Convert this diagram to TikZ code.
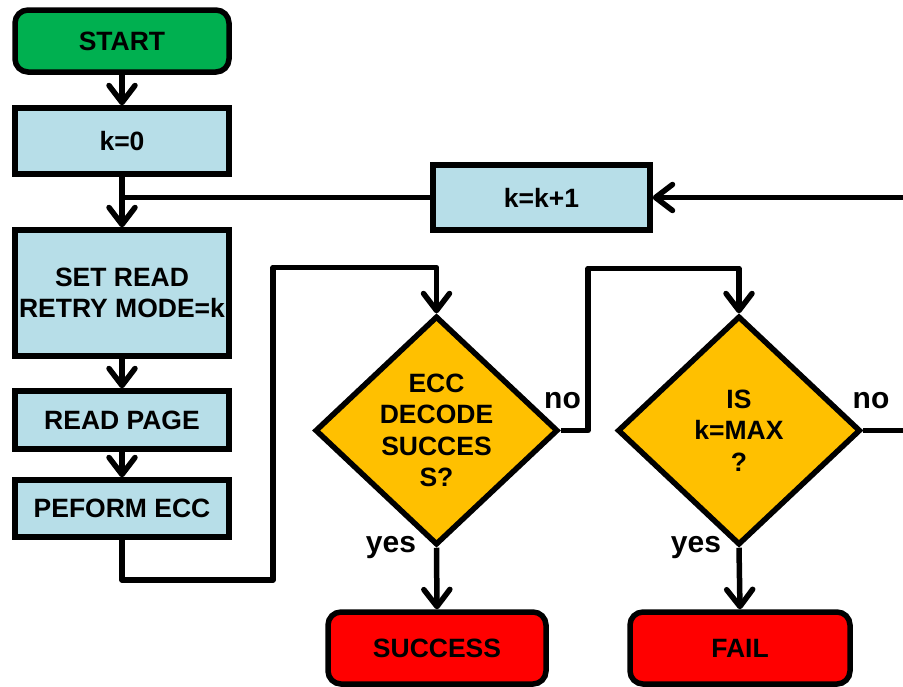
\documentclass[tikz,border=0pt]{standalone}
\usepackage{fontspec}
\setmainfont{Liberation Sans}
\usetikzlibrary{shapes.geometric,arrows.meta}
\definecolor{startgreen}{HTML}{00B050}
\definecolor{stepblue}{HTML}{B7DEE8}
\definecolor{askorange}{HTML}{FFC000}
\definecolor{endred}{HTML}{FF0000}
\tikzset{
  box/.style={draw, line width=5.5pt, fill=stepblue, minimum width=214pt, inner sep=0pt,
    font=\fontsize{26.5}{31.5}\selectfont\bfseries, align=center},
  term/.style={box, rounded corners=13pt},
  ask/.style={diamond, draw, line width=5.5pt, fill=askorange, inner sep=0pt,
    minimum width=243pt, minimum height=229pt, line join=miter,
    font=\fontsize{26.5}{31.5}\selectfont\bfseries, align=center},
  lbl/.style={font=\fontsize{30}{36}\selectfont\bfseries, inner sep=0pt},
  flow/.style={line width=5.5pt, line join=round},
  arr/.style={flow, -{Straight Barb[length=17pt, width=26pt, round]}}
}
\begin{document}
\begin{tikzpicture}[x=1pt, y=-1pt]
  \useasboundingbox (0,0) rectangle (903,686);
  % left column
  \node[term, fill=startgreen, minimum height=62pt] (start) at (122,41) {START};
  \node[box, minimum height=66pt] (k0) at (122,141) {k=0};
  \node[box, minimum height=126pt] (set) at (122,293) {SET READ\\RETRY MODE=k};
  \node[box, minimum height=58pt] (read) at (122,420) {READ PAGE};
  \node[box, minimum height=57pt] (ecc) at (122,508.5) {PEFORM ECC};
  \node[box, minimum width=217pt, minimum height=65pt] (kinc) at (541.5,197.5) {k=k+1};
  % decisions
  \node[ask] (dec) at (436.5,430.5) {ECC\\DECODE\\SUCCES\\S?};
  \node[ask] (dmax) at (739,430.5) {IS\\k=MAX\\?};
  \node[term, fill=endred, minimum width=218pt, minimum height=72pt] (succ) at (437,648) {SUCCESS};
  \node[term, fill=endred, minimum width=220pt, minimum height=72pt] (fail) at (740,648) {FAIL};
  % labels
  \node[lbl] (no1) at (562.5,401) {no};
  \node[lbl] (no2) at (871,401) {no};
  \node[lbl] (yes1) at (391,548) {yes};
  \node[lbl] (yes2) at (696,548) {yes};
  \coordinate (inR) at (903,197.5);
  \coordinate (outR) at (903,430.5);
  % connectors
  \draw[arr] (start) -- (k0);
  \draw[arr] (k0) -- (set);
  \draw[flow] (kinc.west) -- (kinc.west -| set.north);
  \draw[arr] (inR) -- (kinc.east);
  \draw[arr] (set) -- (read);
  \draw[arr] (read) -- (ecc);
  \draw[arr] (ecc.south) |- (273,580) -- (273,267.5) -| (dec.north);
  \draw[arr] (dec.east) -| (588,268.5) -| (dmax.north);
  \draw[flow] (dmax.east) -- (outR);
  \draw[arr] (dec.south) -- (succ.north);
  \draw[arr] (dmax.south) -- (fail.north);
\end{tikzpicture}
\end{document}
